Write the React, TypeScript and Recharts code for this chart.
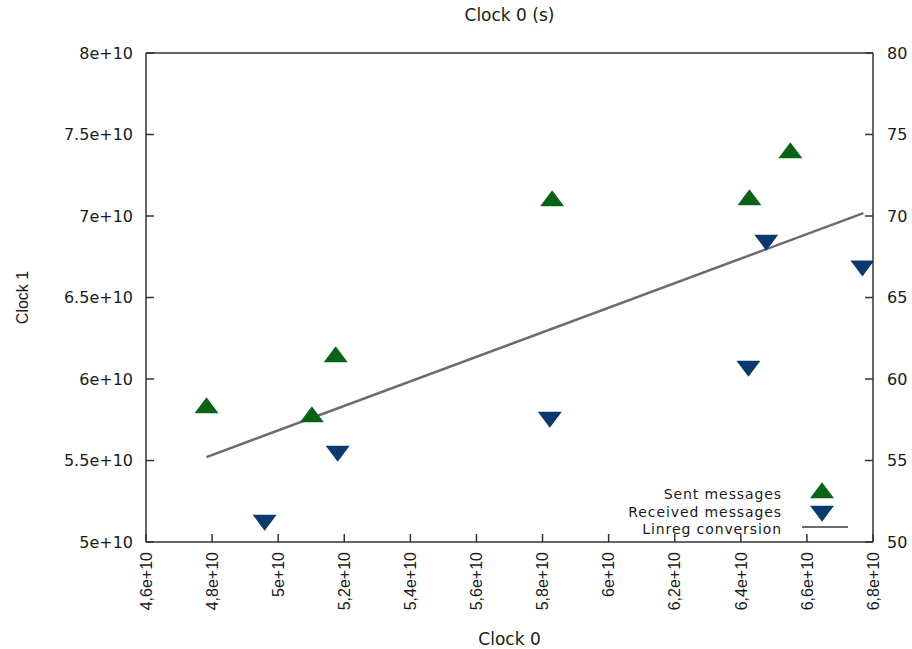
import { Legend, Scatter, ScatterChart, XAxis, YAxis } from "recharts"

// values (clocks in ns, seconds on the mirror axes)
const sentX = [4.783e10, 5.102e10, 5.174e10, 5.829e10, 6.426e10, 6.55e10]
const sentY = [5.822e10, 5.767e10, 6.135e10, 7.092e10, 7.098e10, 7.387e10]
const recvX = [4.959e10, 5.18e10, 5.822e10, 6.423e10, 6.477e10, 6.768e10]
const recvY = [5.135e10, 5.558e10, 5.767e10, 6.08e10, 6.853e10, 6.695e10]
const linregX = [4.783e10, 6.771e10]
const linregY = [5.521e10, 7.018e10]

const clock0Ticks = [4.6e10, 4.8e10, 5e10, 5.2e10, 5.4e10, 5.6e10, 5.8e10, 6e10, 6.2e10, 6.4e10, 6.6e10, 6.8e10]
const clock1Ticks = [5e10, 5.5e10, 6e10, 6.5e10, 7e10, 7.5e10, 8e10]
const secondsTicks = [50, 55, 60, 65]
const rightTicks = [50, 55, 60, 65, 70, 75, 80]

const sent = sentX.map((x, i) => ({ x, y: sentY[i] }))
const received = recvX.map((x, i) => ({ x, y: recvY[i] }))
const linreg = linregX.map((x, i) => ({ x, y: linregY[i] }))

const GREEN = "#0b6416"
const BLUE = "#0a3a6c"
const GREY = "#6c6c6c"
const INK = "#1a1a1a"
const H_FONT = "DejaVu Sans"
const V_FONT = "Liberation Sans"

const fmt = (v: number, sep: string) =>
  String(Math.round(v / 1e9) / 10).replace(".", sep) + "e+10"

const axisStroke = { stroke: "#333", strokeWidth: 1.5 }

function triPoints(cx: number, cy: number, up: boolean) {
  const w = 24
  const h = 16
  if (up) return `${cx},${cy - (2 * h) / 3} ${cx - w / 2},${cy + h / 3} ${cx + w / 2},${cy + h / 3}`
  return `${cx},${cy + (2 * h) / 3} ${cx - w / 2},${cy - h / 3} ${cx + w / 2},${cy - h / 3}`
}

const UpTri = (p: any) => <polygon points={triPoints(p.cx, p.cy, true)} fill={GREEN} />
const DownTri = (p: any) => <polygon points={triPoints(p.cx, p.cy, false)} fill={BLUE} />

function BottomTick({ x, y, payload }: any) {
  return (
    <text
      x={x}
      y={y}
      transform={`rotate(-90, ${x}, ${y})`}
      textAnchor="end"
      dy="0.36em"
      fill={INK}
      fontSize={16}
      fontFamily={V_FONT}
    >
      {fmt(payload.value, ",")}
    </text>
  )
}

function LeftLabel({ viewBox }: any) {
  const x = viewBox.x + 22
  const y = viewBox.y + viewBox.height / 2
  return (
    <text
      x={x}
      y={y}
      transform={`rotate(-90, ${x}, ${y})`}
      textAnchor="middle"
      dominantBaseline="central"
      fill={INK}
      fontSize={16}
      fontFamily={V_FONT}
    >
      Clock 1
    </text>
  )
}

function KeyBox() {
  const t = {
    fill: INK,
    fontSize: 14,
    letterSpacing: 0.9,
    fontFamily: H_FONT,
    textAnchor: "end" as const,
  }
  return (
    <svg width={300} height={60}>
      <text x={202} y={19} {...t}>Sent messages</text>
      <text x={202} y={36.5} {...t}>Received messages</text>
      <text x={202} y={54} {...t}>Linreg conversion</text>
      <polygon points={triPoints(242, 13, true)} fill={GREEN} />
      <polygon points={triPoints(242, 31, false)} fill={BLUE} />
      <line x1={222} x2={268} y1={47} y2={47} stroke={GREY} strokeWidth={2} />
    </svg>
  )
}

const tickText = { fill: INK, fontSize: 16, fontFamily: H_FONT }

export default function App() {
  return (
    <div style={{ position: "absolute", left: 0, top: 0, width: 912, height: 649, background: "#fff" }}>
      <ScatterChart width={912} height={649} margin={{ top: 0, right: 0, bottom: 4, left: 0 }}>
        <XAxis
          xAxisId="bottom"
          type="number"
          dataKey="x"
          domain={[4.6e10, 6.8e10]}
          ticks={clock0Ticks}
          interval={0}
          height={103}
          tickSize={-8}
          tickMargin={18}
          tick={<BottomTick />}
          axisLine={axisStroke}
          tickLine={axisStroke}
          allowDataOverflow
          label={{ value: "Clock 0", position: "insideBottom", offset: 0, fill: INK, fontSize: 17, fontFamily: H_FONT }}
        />
        <XAxis
          xAxisId="top"
          orientation="top"
          type="number"
          domain={[46, 68]}
          ticks={secondsTicks}
          interval={0}
          height={53}
          tickSize={-8}
          tickMargin={17}
          tick={tickText}
          axisLine={axisStroke}
          tickLine={axisStroke}
          allowDataOverflow
          label={{ value: "Clock 0 (s)", position: "insideTop", offset: 9, fill: INK, fontSize: 17, fontFamily: H_FONT }}
        />
        <YAxis
          yAxisId="left"
          type="number"
          dataKey="y"
          domain={[5e10, 8e10]}
          ticks={clock1Ticks}
          interval={0}
          width={146}
          tickSize={-8}
          tickMargin={21}
          tick={tickText}
          tickFormatter={(v: number) => fmt(v, ".")}
          axisLine={axisStroke}
          tickLine={axisStroke}
          allowDataOverflow
          label={<LeftLabel />}
        />
        <YAxis
          yAxisId="right"
          orientation="right"
          type="number"
          domain={[50, 80]}
          ticks={rightTicks}
          interval={0}
          width={39}
          tickSize={-8}
          tickMargin={22}
          tick={tickText}
          axisLine={axisStroke}
          tickLine={axisStroke}
          allowDataOverflow
        />
        <Legend
          layout="vertical"
          align="center"
          verticalAlign="middle"
          wrapperStyle={{ left: 580, top: 480, width: 300, height: 60 }}
          content={() => <KeyBox />}
        />
        <Scatter
          name="Linreg conversion"
          data={linreg}
          xAxisId="bottom"
          yAxisId="left"
          line={{ stroke: GREY, strokeWidth: 2.5 }}
          shape={() => <g />}
          isAnimationActive={false}
        />
        <Scatter
          name="Sent messages"
          data={sent}
          xAxisId="bottom"
          yAxisId="left"
          shape={UpTri}
          isAnimationActive={false}
        />
        <Scatter
          name="Received messages"
          data={received}
          xAxisId="bottom"
          yAxisId="left"
          shape={DownTri}
          isAnimationActive={false}
        />
      </ScatterChart>
    </div>
  )
}
